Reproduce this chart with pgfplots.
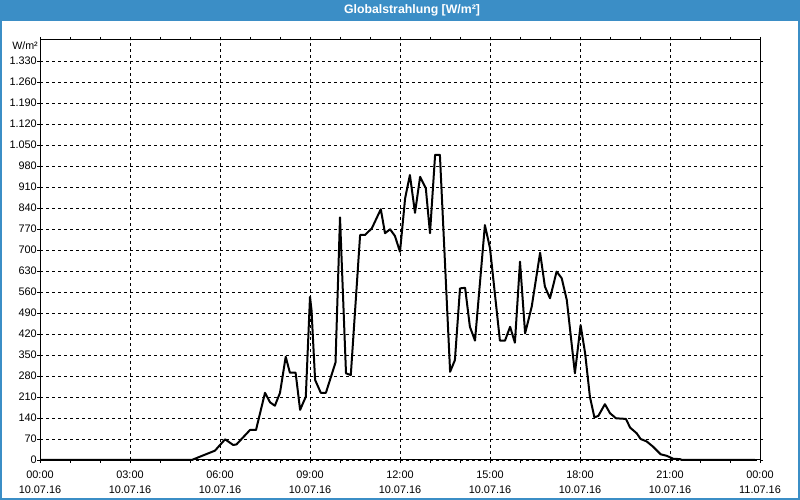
\documentclass[border=0pt]{standalone}
\usepackage{fontspec}
\setmainfont{Liberation Sans}
\usepackage{pgfplots}
\pgfplotsset{compat=1.18}
\definecolor{barblue}{RGB}{59,142,198}
\begin{document}
\begin{tikzpicture}[x=1pt,y=1pt]
\fill[white] (0,0) rectangle (800,500);
\fill[barblue] (0,479) rectangle (800,500);
\draw[barblue, line width=2pt] (1,1) rectangle (799,499);
\node[text=white, font=\bfseries\fontsize{12.3}{14}\selectfont, inner sep=0pt] at (412,489.5) {Globalstrahlung [W/m²]};
\node[anchor=east, font=\fontsize{10.7}{12}\selectfont, inner sep=0pt] at (38,454.3) {W/m²};
\begin{axis}[
  at={(40pt,40pt)}, anchor=south west, scale only axis,
  width=720pt, height=420pt,
  xmin=0, xmax=24, ymin=0, ymax=1400,
  xtick={0,3,...,24},
  minor xtick={1,2,4,5,7,8,10,11,13,14,16,17,19,20,22,23},
  ytick={0,70,...,1330},
  grid=major,
  major grid style={black, line width=0.8pt, dash pattern=on 3pt off 3pt},
  tick align=outside, major tick length=3pt, minor tick length=3pt,
  every tick/.style={black, line width=0.8pt},
  axis line style={black, line width=1pt},
  xticklabels={{00:00\\10.07.16},{03:00\\10.07.16},{06:00\\10.07.16},{09:00\\10.07.16},{12:00\\10.07.16},{15:00\\10.07.16},{18:00\\10.07.16},{21:00\\10.07.16},{00:00\\11.07.16}},
  x tick label style={align=center, font=\fontsize{10.9}{15}\selectfont, inner sep=0pt, yshift=-8pt},
  y tick label style={font=\fontsize{10.9}{12}\selectfont, inner xsep=0pt, /pgf/number format/1000 sep={.}},
  /pgf/number format/assume math mode=true,
  clip=false,
]
\addplot[black, line width=2pt, line join=round] coordinates {
(0,0) (5.0,0) (5.06,0) (5.33,11) (5.83,31) (6.17,69) (6.44,50) (6.55,52)
(7.0,100) (7.2,100) (7.5,224) (7.67,192) (7.83,181) (8.0,224) (8.19,344)
(8.33,291) (8.52,291) (8.67,167) (8.86,211) (9.0,544) (9.05,500) (9.17,267)
(9.36,224) (9.53,224) (9.85,325) (10.0,809) (10.2,289) (10.36,283)
(10.67,750) (10.83,750) (11.06,772) (11.36,836) (11.5,756) (11.67,769)
(11.83,747) (12.0,694) (12.17,872) (12.33,950) (12.5,824) (12.67,944)
(12.86,906) (13.0,756) (13.17,1017) (13.33,1017) (13.67,294) (13.83,333)
(14.0,572) (14.17,574) (14.33,444) (14.5,398) (14.83,783) (15.0,706)
(15.33,398) (15.5,398) (15.67,444) (15.83,391) (16.0,661) (16.17,422)
(16.39,511) (16.67,691) (16.83,578) (17.0,539) (17.22,628) (17.39,606)
(17.56,533) (17.83,289) (18.02,450) (18.17,356) (18.33,211) (18.48,142)
(18.61,147) (18.83,186) (19.0,156) (19.2,139) (19.53,137) (19.67,108)
(19.89,89) (20.02,70) (20.22,62) (20.44,44) (20.69,19) (20.89,14)
(21.11,4) (21.33,3) (21.4,0) (23.83,0)
};
\end{axis}
\end{tikzpicture}
\end{document}
